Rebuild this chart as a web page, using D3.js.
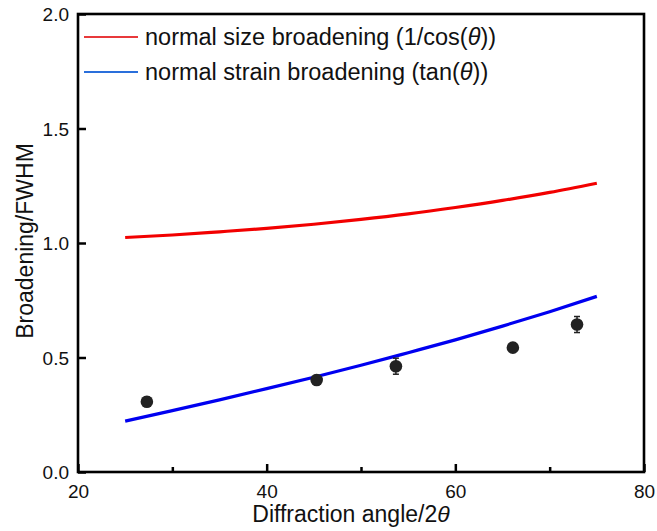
<!DOCTYPE html>
<html>
<head>
<meta charset="utf-8">
<script src="https://cdn.jsdelivr.net/npm/d3@7"></script>
<style>
  html, body { margin: 0; padding: 0; background: #fff; }
  svg text { font-family: "Liberation Sans", Arial, sans-serif; fill: #111; }
</style>
</head>
<body>
<svg id="chart" width="657" height="531"></svg>
<script>
// Diffraction angle (2θ, degrees) for the model curves
const curveAngles = [25, 30, 35, 40, 45, 50, 55, 60, 65, 70, 75];
// Size broadening, 1/cos(θ)
const sizeBroadening = [1.024, 1.035, 1.049, 1.064, 1.082, 1.103, 1.127, 1.155, 1.186, 1.221, 1.261];
// Strain broadening, tan(θ)
const strainBroadening = [0.222, 0.268, 0.315, 0.364, 0.414, 0.466, 0.521, 0.577, 0.637, 0.700, 0.767];

// Measured peaks: position, FWHM and its uncertainty
const peakAngles = [27.3, 45.3, 53.7, 66.1, 72.9];
const peakFWHM = [0.307, 0.402, 0.462, 0.543, 0.644];
const peakError = [0.02, 0.02, 0.035, 0.02, 0.035];

const xTicks = [20, 40, 60, 80];
const xMinorTicks = [30, 50, 70];
const yTicks = [0.0, 0.5, 1.0, 1.5, 2.0];

const legendLabels = ["normal size broadening (1/cos(", "normal strain broadening (tan("];

const svg = d3.select("#chart");
const plotLeft = 78, plotRight = 644, plotTop = 14, plotBottom = 472;

const x = d3.scaleLinear().domain([20, 80]).range([plotLeft, plotRight]);
const y = d3.scaleLinear().domain([0, 2]).range([plotBottom, plotTop]);

// Curves
const line = d3.line().curve(d3.curveMonotoneX);
svg.append("path")
  .attr("d", line(curveAngles.map((a, i) => [x(a), y(sizeBroadening[i])])))
  .attr("fill", "none").attr("stroke", "#f20000").attr("stroke-width", 3.2);
svg.append("path")
  .attr("d", line(curveAngles.map((a, i) => [x(a), y(strainBroadening[i])])))
  .attr("fill", "none").attr("stroke", "#0000f0").attr("stroke-width", 3.2);

// Measured points with error bars
const pts = svg.append("g");
peakAngles.forEach((a, i) => {
  const cx = x(a), cy = y(peakFWHM[i]);
  const y1 = y(peakFWHM[i] + peakError[i]), y2 = y(peakFWHM[i] - peakError[i]);
  pts.append("line").attr("x1", cx).attr("x2", cx).attr("y1", y1).attr("y2", y2)
    .attr("stroke", "#222").attr("stroke-width", 1.5);
  pts.append("line").attr("x1", cx - 3).attr("x2", cx + 3).attr("y1", y1).attr("y2", y1)
    .attr("stroke", "#222").attr("stroke-width", 1.5);
  pts.append("line").attr("x1", cx - 3).attr("x2", cx + 3).attr("y1", y2).attr("y2", y2)
    .attr("stroke", "#222").attr("stroke-width", 1.5);
  pts.append("circle").attr("cx", cx).attr("cy", cy).attr("r", 6.3).attr("fill", "#222");
});

// Axes with inward ticks
const xAxis = svg.append("g").attr("transform", `translate(0,${plotBottom})`)
  .call(d3.axisBottom(x).tickValues(xTicks).tickSize(-8).tickPadding(13).tickFormat(d3.format("d")));
const xMinor = svg.append("g").attr("transform", `translate(0,${plotBottom})`)
  .call(d3.axisBottom(x).tickValues(xMinorTicks).tickSize(-5).tickFormat(""));
const yAxis = svg.append("g").attr("transform", `translate(${plotLeft},0)`)
  .call(d3.axisLeft(y).tickValues(yTicks).tickSize(-8).tickPadding(9).tickFormat(d3.format(".1f")));
[xAxis, xMinor, yAxis].forEach(g => {
  g.select(".domain").remove();
  g.selectAll(".tick line").attr("stroke", "#000").attr("stroke-width", 2.5);
  g.selectAll("text").style("font-size", "19px").attr("fill", "#111");
});
yAxis.selectAll("text").attr("dy", "0.36em");

// Frame
svg.append("rect").attr("x", plotLeft).attr("y", plotTop)
  .attr("width", plotRight - plotLeft).attr("height", plotBottom - plotTop)
  .attr("fill", "none").attr("stroke", "#000").attr("stroke-width", 2.6);

// Axis titles
const xTitle = svg.append("text").attr("x", (plotLeft + plotRight) / 2 - 10).attr("y", 522)
  .attr("text-anchor", "middle").style("font-size", "23px");
xTitle.append("tspan").text("Diffraction angle/2");
xTitle.append("tspan").attr("font-style", "italic").text("θ");

svg.append("text").attr("transform", "translate(33,241) rotate(-90)")
  .attr("text-anchor", "middle").style("font-size", "23px").text("Broadening/FWHM");

// Legend
const legendColors = ["#e8393b", "#2a6fdb"];
legendLabels.forEach((lab, i) => {
  const ly = 37 + i * 35;
  svg.append("line").attr("x1", 84).attr("x2", 138).attr("y1", ly).attr("y2", ly)
    .attr("stroke", legendColors[i]).attr("stroke-width", 2);
  const t = svg.append("text").attr("x", 145).attr("y", ly).attr("dy", "0.35em")
    .style("font-size", "23.5px");
  t.append("tspan").text(lab);
  t.append("tspan").attr("font-style", "italic").text("θ");
  t.append("tspan").text("))");
});
</script>
</body>
</html>
